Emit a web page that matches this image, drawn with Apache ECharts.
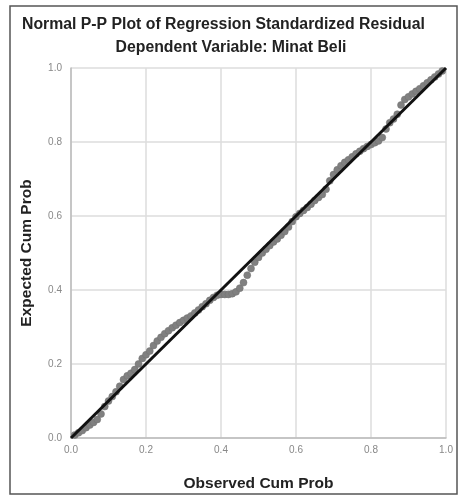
<!DOCTYPE html>
<html>
<head>
<meta charset="utf-8">
<script src="https://cdn.jsdelivr.net/npm/echarts@6/dist/echarts.min.js"></script>
<style>
html,body{margin:0;padding:0;background:#fff;}
#c{width:462px;height:497px;}
</style>
</head>
<body>
<div id="c"></div>
<script>
var titleText = "Normal P-P Plot of Regression Standardized Residual";
var subtitleText = "Dependent Variable: Minat Beli";
var xName = "Observed Cum Prob";
var yName = "Expected Cum Prob";
var tickValues = [0.0, 0.2, 0.4, 0.6, 0.8, 1.0];
var observed = [0.01,0.02,0.03,0.04,0.05,0.06,0.07,0.08,0.09,0.10,
  0.11,0.12,0.13,0.14,0.15,0.16,0.17,0.18,0.19,0.20,
  0.21,0.22,0.23,0.24,0.25,0.26,0.27,0.28,0.29,0.30,
  0.31,0.32,0.33,0.34,0.35,0.36,0.37,0.38,0.39,0.40,
  0.41,0.42,0.43,0.44,0.45,0.46,0.47,0.48,0.49,0.50,
  0.51,0.52,0.53,0.54,0.55,0.56,0.57,0.58,0.59,0.60,
  0.61,0.62,0.63,0.64,0.65,0.66,0.67,0.68,0.69,0.70,
  0.71,0.72,0.73,0.74,0.75,0.76,0.77,0.78,0.79,0.80,
  0.81,0.82,0.83,0.84,0.85,0.86,0.87,0.88,0.89,0.90,
  0.91,0.92,0.93,0.94,0.95,0.96,0.97,0.98,0.99];
var expected = [0.008,0.014,0.020,0.028,0.035,0.042,0.050,0.065,0.085,0.100,
  0.112,0.125,0.140,0.158,0.168,0.175,0.185,0.200,0.215,0.225,
  0.235,0.250,0.262,0.272,0.282,0.290,0.298,0.305,0.312,0.318,
  0.324,0.330,0.338,0.346,0.355,0.363,0.372,0.380,0.386,0.388,
  0.388,0.388,0.390,0.395,0.405,0.420,0.440,0.458,0.475,0.488,
  0.500,0.510,0.520,0.530,0.538,0.548,0.558,0.570,0.585,0.598,
  0.607,0.615,0.623,0.632,0.642,0.650,0.658,0.672,0.695,0.712,
  0.725,0.736,0.745,0.752,0.760,0.768,0.775,0.782,0.788,0.793,
  0.798,0.803,0.812,0.835,0.852,0.862,0.875,0.900,0.915,0.922,
  0.930,0.937,0.944,0.952,0.960,0.968,0.976,0.984,0.992];
var refLine = [[0, 0], [1, 1]];

var pts = observed.map(function(v, i){ return [v, expected[i]]; });
var chart = echarts.init(document.getElementById('c'), null, {renderer: 'canvas'});
var font = "Liberation Sans, Arial, sans-serif";
chart.setOption({
  animation: false,
  backgroundColor: '#fff',
  graphic: [{
    type: 'rect', shape: {x: 10, y: 6, width: 447, height: 488},
    style: {fill: 'none', stroke: '#555', lineWidth: 1.5}, silent: true, z: -1
  }, {
    type: 'text', left: 22, top: 17,
    style: {text: titleText, font: 'bold 15.8px ' + font, fill: '#222'}
  }, {
    type: 'text', left: 'center', top: 40,
    style: {text: subtitleText, font: 'bold 15.8px ' + font, fill: '#222'}
  }],
  grid: {left: 71, right: 16, top: 68, bottom: 58, containLabel: false},
  xAxis: {
    type: 'value', min: 0, max: 1, interval: 0.2,
    name: xName, nameLocation: 'middle', nameGap: 38,
    nameTextStyle: {fontFamily: font, fontWeight: 'bold', fontSize: 15.5, color: '#222'},
    axisLine: {lineStyle: {color: '#bbb', width: 1.5}},
    axisTick: {show: false},
    axisLabel: {color: '#888', fontSize: 10, fontFamily: font, margin: 7,
      formatter: function(v){ return v.toFixed(1); }},
    splitLine: {show: true, lineStyle: {color: '#ddd', width: 1.5}}
  },
  yAxis: {
    type: 'value', min: 0, max: 1, interval: 0.2,
    name: yName, nameLocation: 'middle', nameGap: 36,
    nameTextStyle: {fontFamily: font, fontWeight: 'bold', fontSize: 15.5, color: '#222'},
    axisLine: {show: true, lineStyle: {color: '#bbb', width: 1.5}},
    axisTick: {show: false},
    axisLabel: {color: '#888', fontSize: 10, fontFamily: font, margin: 9,
      formatter: function(v){ return v.toFixed(1); }},
    splitLine: {show: true, lineStyle: {color: '#ddd', width: 1.5}}
  },
  series: [{
    type: 'scatter', data: pts, symbol: 'circle', symbolSize: 7,
    itemStyle: {color: '#808080', borderColor: '#707070', borderWidth: 0.5, opacity: 1}
  }, {
    type: 'line', data: refLine, symbol: 'none',
    lineStyle: {color: '#111', width: 3}, z: 5
  }]
});
</script>
</body>
</html>
